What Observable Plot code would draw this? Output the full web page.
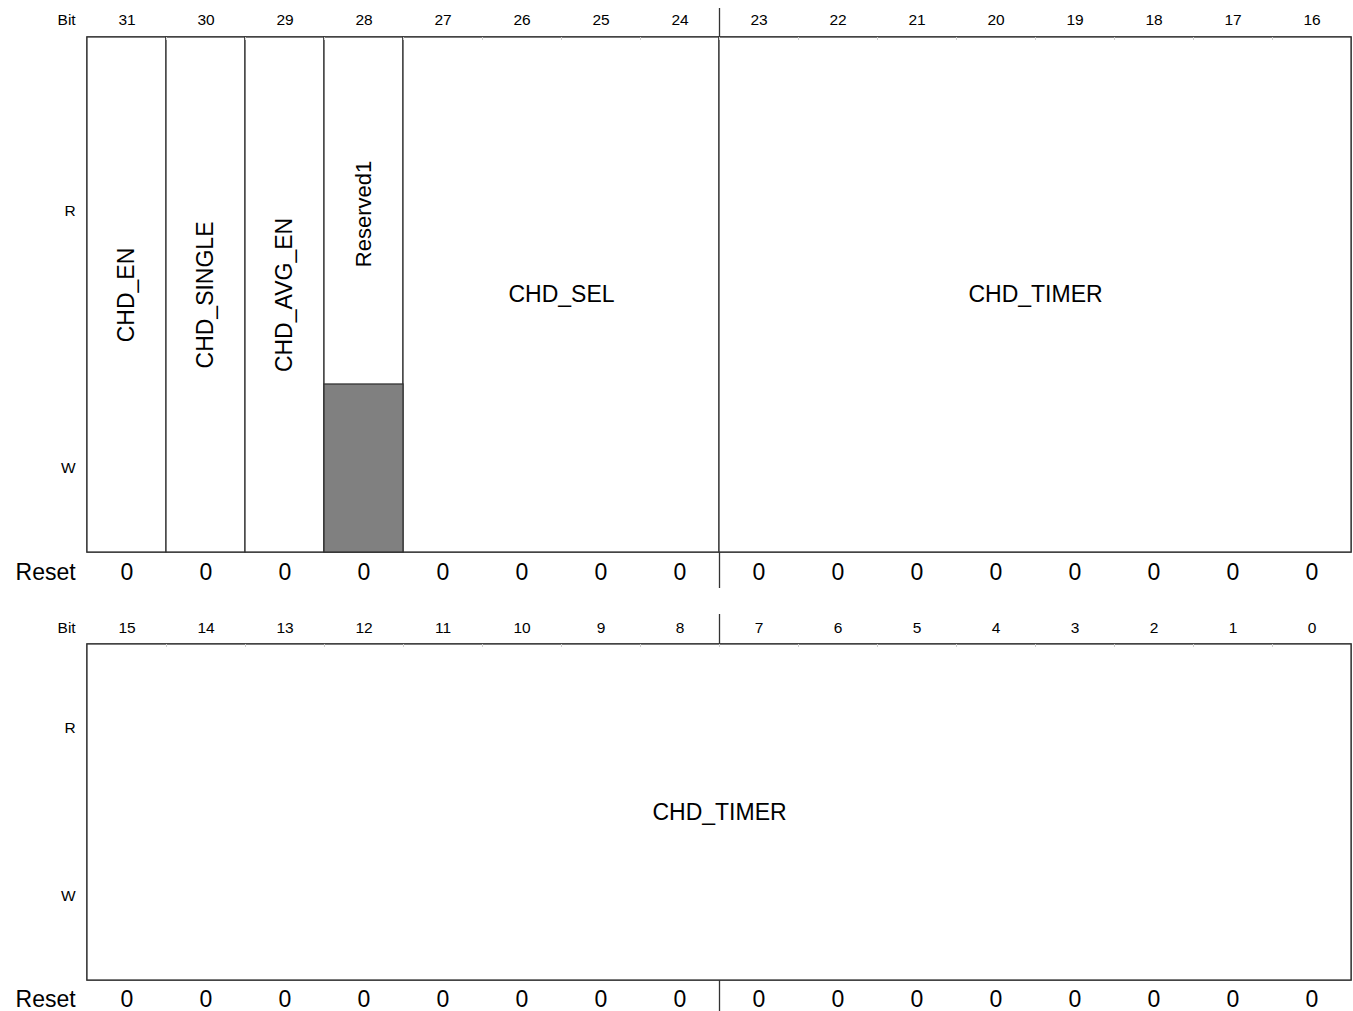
<!DOCTYPE html>
<html>
<head>
<meta charset="utf-8">
<script src="https://cdn.jsdelivr.net/npm/d3@7"></script>
<script src="https://cdn.jsdelivr.net/npm/@observablehq/plot@0.6"></script>
<style>
  html, body { margin: 0; padding: 0; background: #fff; }
  #chart svg { display: block; }
</style>
</head>
<body>
<div id="chart"></div>
<script>
// ---- data ----
const topBits = [31, 30, 29, 28, 27, 26, 25, 24, 23, 22, 21, 20, 19, 18, 17, 16];
const bottomBits = [15, 14, 13, 12, 11, 10, 9, 8, 7, 6, 5, 4, 3, 2, 1, 0];
const resetTop = [0, 0, 0, 0, 0, 0, 0, 0, 0, 0, 0, 0, 0, 0, 0, 0];
const resetBottom = [0, 0, 0, 0, 0, 0, 0, 0, 0, 0, 0, 0, 0, 0, 0, 0];
const fieldNames = ["CHD_EN", "CHD_SINGLE", "CHD_AVG_EN", "Reserved1", "CHD_SEL", "CHD_TIMER", "CHD_TIMER"];
const fieldMsb = [31, 30, 29, 28, 27, 23, 15];
const fieldLsb = [31, 30, 29, 28, 24, 16, 0];
const fieldVertical = [true, true, true, true, false, false, false];
const fieldReserved = [false, false, false, true, false, false, false];
const rowLabels = ["R", "W"];

// ---- layout (pixels on the y scale) ----
const sections = [
  {bitY: 20, top: 37, split: 384, bottom: 552, resetY: 572, gapTop: 8, gapBottom: 588},
  {bitY: 628, top: 644, split: 812, bottom: 980, resetY: 999, gapTop: 614, gapBottom: 1011}
];
const W = 1353, H = 1011;
const FONT = "'Liberation Sans', Arial, Helvetica, sans-serif";
const LINE = "#333";

const sec = b => (b >= 16 ? 0 : 1);
const col = b => 15 - (b % 16);

const fields = fieldNames.map((name, i) => {
  const s = sections[sec(fieldMsb[i])];
  return {
    name, x1: col(fieldMsb[i]), x2: col(fieldLsb[i]) + 1,
    y1: s.top, y2: s.bottom, split: s.split,
    vertical: fieldVertical[i], reserved: fieldReserved[i],
    size: fieldReserved[i] ? 22 : 23,
    cx: (col(fieldMsb[i]) + col(fieldLsb[i]) + 1) / 2,
    cy: fieldReserved[i] ? (s.top + s.split) / 2 + 3 : (s.top + s.bottom) / 2
  };
});

const bitLabels = [
  ...topBits.map(b => ({bit: b, x: col(b) + 0.5, y: sections[0].bitY})),
  ...bottomBits.map(b => ({bit: b, x: col(b) + 0.5, y: sections[1].bitY}))
];
const resetLabels = [
  ...topBits.map((b, i) => ({v: resetTop[i], x: col(b) + 0.5, y: sections[0].resetY})),
  ...bottomBits.map((b, i) => ({v: resetBottom[i], x: col(b) + 0.5, y: sections[1].resetY}))
];
const sideLabels = sections.flatMap(s => [
  {t: "Bit", y: s.bitY, size: 15.5},
  {t: rowLabels[0], y: (s.top + s.split) / 2, size: 15.5},
  {t: rowLabels[1], y: (s.split + s.bottom) / 2, size: 15.5},
  {t: "Reset", y: s.resetY, size: 23}
]);
const dividers = sections.flatMap(s => [
  {y1: s.gapTop, y2: s.top},
  {y1: s.bottom, y2: s.gapBottom}
]);
const ticks = sections.flatMap(s => d3.range(1, 16).map(c => ({x: c, y1: s.top, y2: s.top + 3})));

const chart = Plot.plot({
  width: W, height: H,
  marginTop: 0, marginRight: 0, marginBottom: 0, marginLeft: 0,
  style: {fontFamily: FONT, background: "#fff", color: "#000"},
  x: {type: "linear", domain: [0, 16], range: [87, 1351], axis: null},
  y: {type: "linear", domain: [0, H], range: [0, H], axis: null},
  marks: [
    Plot.rect(sections, {x1: 0, x2: 16, y1: "top", y2: "bottom", fill: "#fff", stroke: LINE, strokeWidth: 1.5}),
    Plot.rect(fields, {x1: "x1", x2: "x2", y1: "y1", y2: "y2", fill: "#fff", stroke: LINE, strokeWidth: 1.3}),
    Plot.rect(fields.filter(d => d.reserved), {x1: "x1", x2: "x2", y1: "split", y2: "y2", fill: "#808080", stroke: LINE, strokeWidth: 1.3}),
    Plot.ruleX(ticks, {x: "x", y1: "y1", y2: "y2", stroke: "#d0d0d0", strokeWidth: 1}),
    Plot.ruleX(dividers, {x: 8, y1: "y1", y2: "y2", stroke: LINE, strokeWidth: 1.3}),
    Plot.text(fields.filter(d => !d.vertical), {x: "cx", y: "cy", text: "name", fontSize: 23, fill: "#000"}),
    Plot.text(fields.filter(d => d.vertical), {x: "cx", y: "cy", text: "name", fontSize: "size", rotate: -90, fill: "#000"}),
    Plot.text(bitLabels, {x: "x", y: "y", text: d => String(d.bit), fontSize: 15.5, fill: "#000"}),
    Plot.text(resetLabels, {x: "x", y: "y", text: d => String(d.v), fontSize: 23, fill: "#000"}),
    Plot.text(sideLabels, {x: -0.15, y: "y", text: "t", fontSize: "size", textAnchor: "end", fill: "#000"})
  ]
});
document.getElementById("chart").appendChild(chart);
</script>
</body>
</html>
